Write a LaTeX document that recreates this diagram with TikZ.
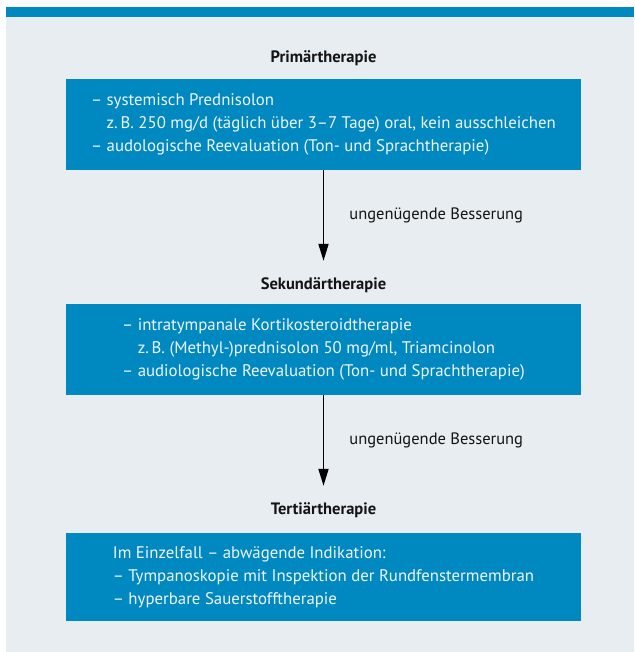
\documentclass[tikz,border=0pt]{standalone}
\usepackage{fontspec}
\setmainfont{PT Sans}
\usetikzlibrary{arrows.meta}
\definecolor{boxblue}{RGB}{0,137,192}
\definecolor{bggray}{RGB}{232,237,241}
\definecolor{boxtext}{RGB}{240,245,250}
\definecolor{titletext}{RGB}{20,20,20}
\begin{document}
\begin{tikzpicture}[x=1pt,y=-1pt,
  box/.style={fill=boxblue, text=boxtext, align=left, minimum width=515pt,
    inner sep=0pt, font=\fontsize{16.8}{23}\selectfont},
  title/.style={font=\fontsize{16.5}{18}\selectfont\bfseries, text=titletext,
    inner xsep=0pt, inner ysep=16pt, text height=12pt, text depth=4pt},
  lab/.style={font=\fontsize{16.5}{18}\selectfont, text=titletext, inner sep=0pt, anchor=west},
  arr/.style={line width=1.8pt, -{Triangle[length=17pt,width=10pt]}}]
\useasboundingbox (0,0) rectangle (634,652);
\fill[white] (0,0) rectangle (634,652);
\fill[bggray] (6,17) rectangle (634,652);
\fill[boxblue] (6,7) rectangle (634,17);

\node[title] (t1) at (323.5,59) {Primärtherapie};
\node[box, minimum height=91pt] (b1) at (323.5,124.5)
  {– systemisch Prednisolon\\
   \hphantom{– }z.\,B. 250 mg/d (täglich über 3–7 Tage) oral, kein ausschleichen\\
   – audologische Reevaluation (Ton- und Sprachtherapie)};

\node[title] (t2) at (323.5,285) {Sekundärtherapie};
\node[box, minimum height=91pt] (b2) at (323.5,349.5)
  {– intratympanale Kortikosteroidtherapie\\
   \hphantom{– }z.\,B. (Methyl-)prednisolon 50 mg/ml, Triamcinolon\\
   – audiologische Reevaluation (Ton- und Sprachtherapie)};

\node[title] (t3) at (323.5,510) {Tertiärtherapie};
\node[box, minimum height=88pt] (b3) at (323.5,577)
  {Im Einzelfall – abwägende Indikation:\\
   – Tympanoskopie mit Inspektion der Rundfenstermembran\\
   – hyperbare Sauerstofftherapie};

\draw[arr] (b1.south) -- (t2.north) node[midway, lab, xshift=25pt] {ungenügende Besserung};
\draw[arr] (b2.south) -- (t3.north) node[midway, lab, xshift=25pt] {ungenügende Besserung};
\end{tikzpicture}
\end{document}
